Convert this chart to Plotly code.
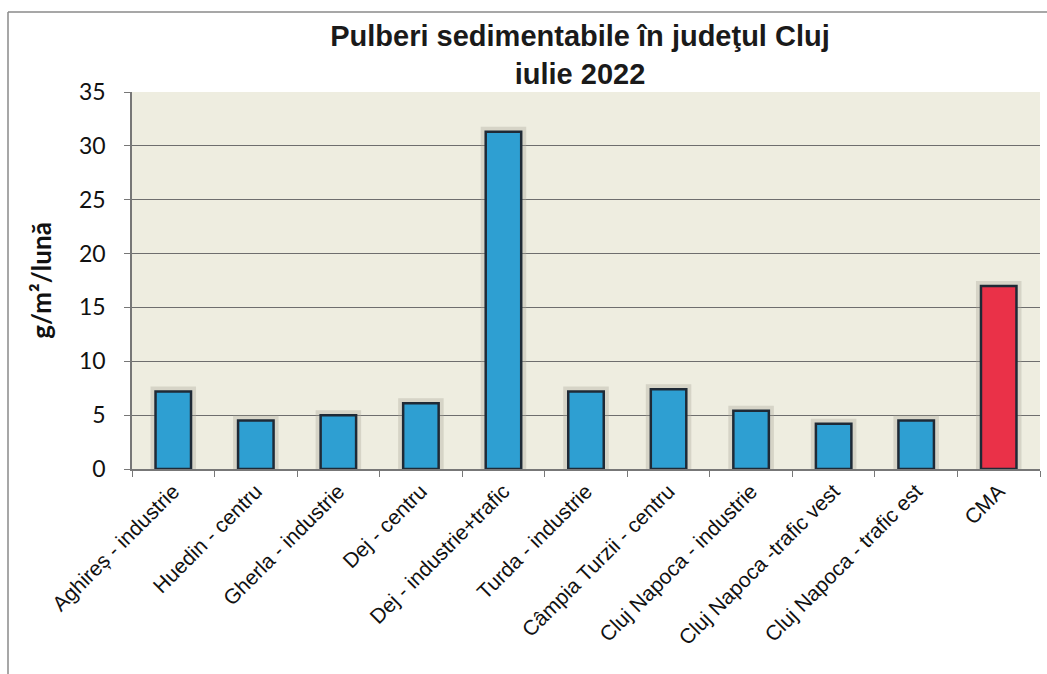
import plotly.graph_objects as go

categories = [
    "Aghireș - industrie",
    "Huedin - centru",
    "Gherla - industrie",
    "Dej - centru",
    "Dej - industrie+trafic",
    "Turda - industrie",
    "Câmpia Turzii - centru",
    "Cluj Napoca - industrie",
    "Cluj Napoca -trafic vest",
    "Cluj Napoca - trafic est",
    "CMA",
]
values = [7.2, 4.5, 5.0, 6.1, 31.3, 7.2, 7.4, 5.4, 4.2, 4.5, 17.0]
bar_colors = ["#2e9fd2"] * 10 + ["#ea3148"]

title_lines = ["Pulberi sedimentabile în judeţul Cluj", "iulie 2022"]
y_title = "g/m²/lună"
y_ticks = [0, 5, 10, 15, 20, 25, 30, 35]

W, H = 1047, 674
ML, MR, MT, MB = 132, 7, 92, 205
PW, PH = W - ML - MR, H - MT - MB

fig = go.Figure()
# soft shadow halo behind bars
fig.add_trace(go.Bar(
    x=categories, y=values,
    marker=dict(color="rgba(170,166,152,0.35)",
                line=dict(color="rgba(170,166,152,0.35)", width=10)),
    width=0.43, hoverinfo="skip", showlegend=False,
))
fig.add_trace(go.Bar(
    x=categories, y=values,
    marker=dict(color=bar_colors, line=dict(color="#1f2a36", width=2.5)),
    width=0.43, showlegend=False,
))

def px_x(x):
    return (x - ML) / PW

def px_y(y):
    return (H - MB - y) / PH

# outer frame (scanned page border)
fig.add_shape(type="line", xref="paper", yref="paper",
              x0=px_x(8), x1=px_x(1047), y0=px_y(12), y1=px_y(12),
              line=dict(color="#8a8a8a", width=1.5))
fig.add_shape(type="line", xref="paper", yref="paper",
              x0=px_x(8), x1=px_x(8), y0=px_y(12), y1=px_y(674),
              line=dict(color="#8a8a8a", width=1.5))

fig.update_layout(
    width=W, height=H,
    margin=dict(l=ML, r=MR, t=MT, b=MB, autoexpand=False),
    barmode="overlay",
    paper_bgcolor="white",
    plot_bgcolor="#eeede0",
    title=dict(
        text="<b>" + "<br>".join(title_lines) + "</b>",
        x=px_x(580), xanchor="center", xref="paper",
        y=1 - 46 / H, yanchor="middle",
        font=dict(family="Liberation Sans, Arial", size=29, color="#1a1a1a"),
    ),
    xaxis=dict(
        tickangle=-45,
        tickfont=dict(family="Liberation Sans, Arial", size=21, color="#111"),
        showline=True, linecolor="#777", linewidth=1.5,
        ticks="outside", ticklen=6, tickcolor="#777",
        tickson="boundaries",
        showgrid=False,
        automargin=False,
    ),
    yaxis=dict(
        range=[0, 35],
        tickvals=y_ticks,
        tickfont=dict(family="Lato, Open Sans", size=23, color="#111"),
        showline=True, linecolor="#777", linewidth=1.5,
        ticks="outside", ticklen=6, tickcolor="#777",
        ticklabelstandoff=14,
        showgrid=True, gridcolor="#6e6e6e", gridwidth=1.3,
        zeroline=False,
        automargin=False,
        title=dict(text="<b>" + y_title + "</b>",
                   font=dict(family="Lato, Open Sans", size=26, color="#111"),
                   standoff=20),
    ),
)

fig.write_html("out.html", config={"displayModeBar": False},
               post_script="document.body.style.margin='0';document.body.style.overflow='hidden';")
